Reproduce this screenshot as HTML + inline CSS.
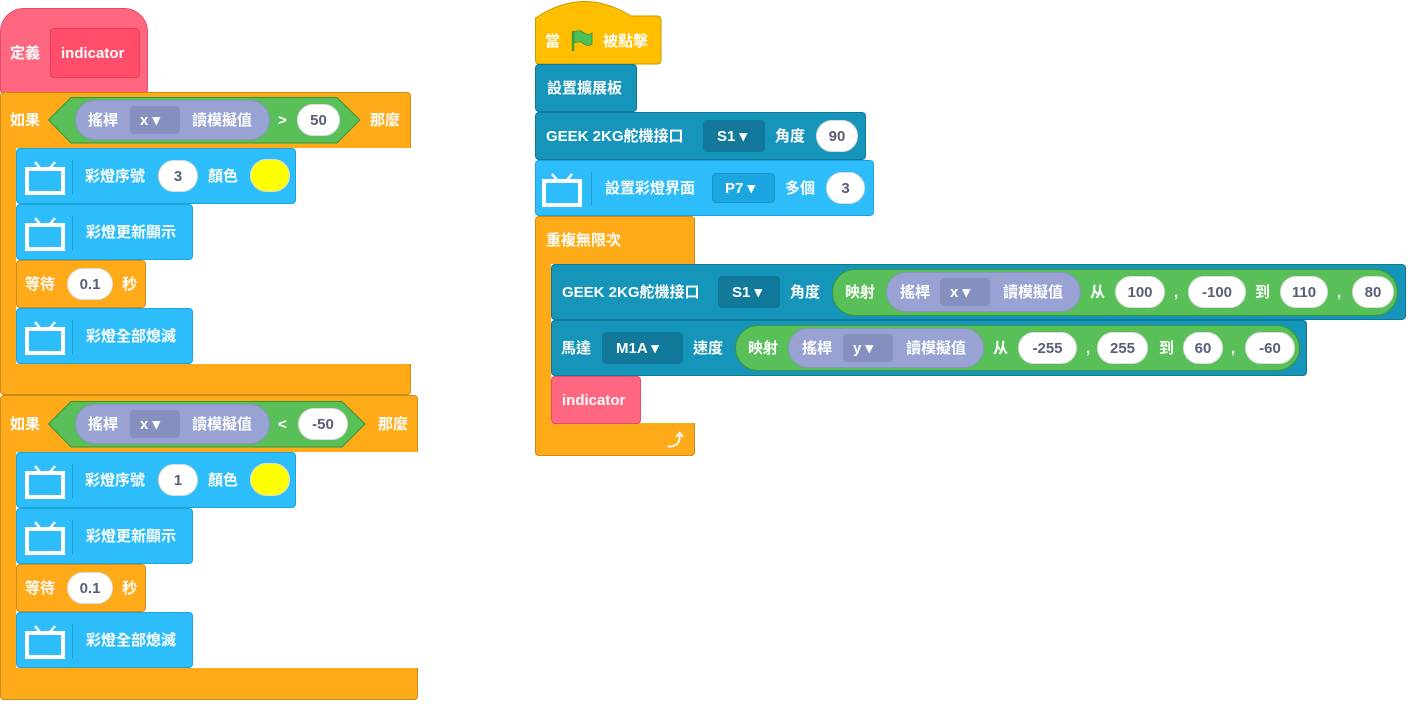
<!DOCTYPE html>
<html><head><meta charset="utf-8"><style>
body{margin:0;width:1408px;height:708px;background:#fff;position:relative;overflow:hidden;font-family:"Liberation Sans","Noto Sans CJK TC",sans-serif}
div{position:absolute;box-sizing:border-box}
.o{background:#FFAB19;border:1px solid #CF8B17;border-radius:4px}
.l{background:#2DBDFB;border:1px solid #1FA3DB;border-radius:4px}
.g{background:#1595BA;border:1px solid #10799A;border-radius:4px}
.p{background:#FF6680;border:1px solid #E64D68;border-radius:4px}
.t{color:#fff;font-weight:bold;font-size:15px;line-height:18px;white-space:nowrap;margin-top:1px}
.ov{background:#fff;border:1px solid #ddd;border-radius:17px;height:32px;color:#575E75;font-weight:bold;font-size:15px;line-height:31px;text-align:center}
.gr{background:#59C059;border:1px solid #389438;border-radius:23px}
.pu{background:#98A3D4;border:1px solid #8A94C6;border-radius:20px}
.dp{background:#8690BE;border-radius:4px;height:28px;color:#fff;font-weight:bold;font-size:15px;line-height:29px;padding-left:10px}
.dt{background:#12799A;border-radius:4px;height:32px;color:#fff;font-weight:bold;font-size:15px;line-height:33px;padding-left:14px}
.dl{background:#1BA6E2;border:1px solid #1895CC;border-radius:4px;height:30px;color:#fff;font-weight:bold;font-size:15px;line-height:29px;padding-left:12px}
.sep{width:1px;background:#1E9FD8}
svg{position:absolute}
</style></head><body>

<!-- LEFT SCRIPT -->
<div class="p" style="left:0;top:8px;width:148px;height:86px;border-radius:24px 24px 4px 4px"></div>
<div style="left:50px;top:28px;width:90px;height:50px;background:#FF4D6A;border:1px solid #E63E5C;border-radius:4px"></div>
<div class="t" style="left:10px;top:44px">定義</div>
<div class="t" style="left:61px;top:44px">indicator</div>

<!-- if 1 -->
<div class="o" style="left:0;top:92px;width:411px;height:303px"></div>
<div style="left:16px;top:148px;width:395px;height:216px;background:#fff"></div>
<div class="o" style="left:0;top:364px;width:411px;height:31px;border-top:none;border-radius:0 4px 4px 4px"></div>
<div style="left:1px;top:140px;width:15px;height:232px;background:#FFAB19"></div>
<div class="t" style="left:10px;top:111px">如果</div>
<svg style="left:48px;top:97px" width="313" height="47"><polygon points="23,0.5 289,0.5 312,23 289,46 23,46 0.5,23" fill="#59C059" stroke="#389438"/></svg>
<div class="pu" style="left:75px;top:100px;width:195px;height:40px"></div>
<div class="t" style="left:88px;top:111px">搖桿</div>
<div class="dp" style="left:130px;top:106px;width:50px">x ▾</div>
<div class="t" style="left:192px;top:111px">讀模擬值</div>
<div class="t" style="left:278px;top:111px">&gt;</div>
<div class="ov" style="left:297px;top:104px;width:43px">50</div>
<div class="t" style="left:370px;top:111px">那麼</div>

<div class="l" style="left:16px;top:148px;width:280px;height:56px"></div>
<div class="l" style="left:16px;top:204px;width:177px;height:56px"></div>
<div class="o" style="left:16px;top:260px;width:130px;height:48px"></div>
<div class="l" style="left:16px;top:308px;width:177px;height:56px"></div>
<div class="t" style="left:85px;top:167px">彩燈序號</div>
<div class="ov" style="left:158px;top:160px;width:40px">3</div>
<div class="t" style="left:208px;top:167px">顏色</div>
<div style="left:250px;top:159px;width:40px;height:33px;background:#FFFF00;border:1px solid #ddd;border-radius:17px"></div>
<div class="t" style="left:86px;top:223px">彩燈更新顯示</div>
<div class="t" style="left:25px;top:275px">等待</div>
<div class="ov" style="left:67px;top:268px;width:46px">0.1</div>
<div class="t" style="left:122px;top:275px">秒</div>
<div class="t" style="left:86px;top:327px">彩燈全部熄滅</div>

<!-- if 2 -->
<div class="o" style="left:0;top:395px;width:418px;height:305px"></div>
<div style="left:16px;top:452px;width:402px;height:216px;background:#fff"></div>
<div class="o" style="left:0;top:668px;width:418px;height:32px;border-top:none;border-radius:0 4px 4px 4px"></div>
<div style="left:1px;top:444px;width:15px;height:232px;background:#FFAB19"></div>
<div class="t" style="left:10px;top:415px">如果</div>
<svg style="left:48px;top:401px" width="318" height="47"><polygon points="23,0.5 294,0.5 317,23 294,46 23,46 0.5,23" fill="#59C059" stroke="#389438"/></svg>
<div class="pu" style="left:75px;top:404px;width:195px;height:40px"></div>
<div class="t" style="left:88px;top:415px">搖桿</div>
<div class="dp" style="left:130px;top:410px;width:50px">x ▾</div>
<div class="t" style="left:192px;top:415px">讀模擬值</div>
<div class="t" style="left:278px;top:415px">&lt;</div>
<div class="ov" style="left:298px;top:408px;width:50px">-50</div>
<div class="t" style="left:378px;top:415px">那麼</div>

<div class="l" style="left:16px;top:452px;width:280px;height:56px"></div>
<div class="l" style="left:16px;top:508px;width:177px;height:56px"></div>
<div class="o" style="left:16px;top:564px;width:130px;height:48px"></div>
<div class="l" style="left:16px;top:612px;width:177px;height:56px"></div>
<div class="t" style="left:85px;top:471px">彩燈序號</div>
<div class="ov" style="left:158px;top:464px;width:40px">1</div>
<div class="t" style="left:208px;top:471px">顏色</div>
<div style="left:250px;top:463px;width:40px;height:33px;background:#FFFF00;border:1px solid #ddd;border-radius:17px"></div>
<div class="t" style="left:86px;top:527px">彩燈更新顯示</div>
<div class="t" style="left:25px;top:579px">等待</div>
<div class="ov" style="left:67px;top:572px;width:46px">0.1</div>
<div class="t" style="left:122px;top:579px">秒</div>
<div class="t" style="left:86px;top:631px">彩燈全部熄滅</div>

<!-- TV icons left -->
<svg style="left:24px;top:161px" width="42" height="34"><path d="M11 1 L16 7 M31 1 L26 7" stroke="#fff" stroke-width="2.5"/><rect x="3" y="8" width="36" height="24" fill="none" stroke="#fff" stroke-width="4"/></svg>
<div class="sep" style="left:72px;top:160px;height:34px"></div>
<svg style="left:24px;top:217px" width="42" height="34"><path d="M11 1 L16 7 M31 1 L26 7" stroke="#fff" stroke-width="2.5"/><rect x="3" y="8" width="36" height="24" fill="none" stroke="#fff" stroke-width="4"/></svg>
<div class="sep" style="left:72px;top:216px;height:34px"></div>
<svg style="left:24px;top:321px" width="42" height="34"><path d="M11 1 L16 7 M31 1 L26 7" stroke="#fff" stroke-width="2.5"/><rect x="3" y="8" width="36" height="24" fill="none" stroke="#fff" stroke-width="4"/></svg>
<div class="sep" style="left:72px;top:320px;height:34px"></div>
<svg style="left:24px;top:465px" width="42" height="34"><path d="M11 1 L16 7 M31 1 L26 7" stroke="#fff" stroke-width="2.5"/><rect x="3" y="8" width="36" height="24" fill="none" stroke="#fff" stroke-width="4"/></svg>
<div class="sep" style="left:72px;top:464px;height:34px"></div>
<svg style="left:24px;top:521px" width="42" height="34"><path d="M11 1 L16 7 M31 1 L26 7" stroke="#fff" stroke-width="2.5"/><rect x="3" y="8" width="36" height="24" fill="none" stroke="#fff" stroke-width="4"/></svg>
<div class="sep" style="left:72px;top:520px;height:34px"></div>
<svg style="left:24px;top:625px" width="42" height="34"><path d="M11 1 L16 7 M31 1 L26 7" stroke="#fff" stroke-width="2.5"/><rect x="3" y="8" width="36" height="24" fill="none" stroke="#fff" stroke-width="4"/></svg>
<div class="sep" style="left:72px;top:624px;height:34px"></div>

<!-- RIGHT SCRIPT -->
<svg style="left:535px;top:0" width="127" height="66"><path d="M0.5 18 Q48 -14 96 16 L122 16 Q126 16 126 20 L126 60 Q126 64 122 64 L4 64 Q0.5 64 0.5 60 Z" fill="#FFBF00" stroke="#CC9900"/></svg>
<div class="t" style="left:545px;top:32px">當</div>
<svg style="left:570px;top:29px" width="24" height="24"><path d="M3 2 L3 22" stroke="#3D9E3D" stroke-width="2.5"/><path d="M4 3 Q10 0 14 4 Q18 7 22 4 L22 15 Q18 18 14 15 Q10 11 4 14 Z" fill="#4CBF56" stroke="#45993D"/></svg>
<div class="t" style="left:603px;top:32px">被點擊</div>

<div class="g" style="left:535px;top:64px;width:102px;height:48px"></div>
<div class="t" style="left:547px;top:79px">設置擴展板</div>
<div class="g" style="left:535px;top:112px;width:331px;height:48px"></div>
<div class="t" style="left:546px;top:127px">GEEK 2KG舵機接口</div>
<div class="dt" style="left:703px;top:120px;width:62px">S1 ▾</div>
<div class="t" style="left:775px;top:127px">角度</div>
<div class="ov" style="left:816px;top:120px;width:42px">90</div>

<div class="l" style="left:535px;top:160px;width:339px;height:56px"></div>
<svg style="left:541px;top:173px" width="42" height="34"><path d="M11 1 L16 7 M31 1 L26 7" stroke="#fff" stroke-width="2.5"/><rect x="3" y="8" width="36" height="24" fill="none" stroke="#fff" stroke-width="4"/></svg>
<div class="sep" style="left:591px;top:172px;height:34px"></div>
<div class="t" style="left:605px;top:179px">設置彩燈界面</div>
<div class="dl" style="left:712px;top:173px;width:63px">P7 ▾</div>
<div class="t" style="left:785px;top:179px">多個</div>
<div class="ov" style="left:826px;top:172px;width:39px">3</div>

<!-- forever -->
<div class="o" style="left:535px;top:216px;width:160px;height:240px"></div>
<div style="left:551px;top:264px;width:150px;height:159px;background:#fff"></div>
<div class="o" style="left:535px;top:423px;width:160px;height:33px;border-top:none;border-radius:0 4px 4px 4px"></div>
<div style="left:536px;top:256px;width:15px;height:175px;background:#FFAB19"></div>
<div class="t" style="left:546px;top:231px">重複無限次</div>
<div class="t" style="left:667px;top:431px;font-size:17px">⤴</div>

<div class="g" style="left:551px;top:264px;width:855px;height:56px"></div>
<div class="t" style="left:562px;top:283px">GEEK 2KG舵機接口</div>
<div class="dt" style="left:718px;top:276px;width:62px">S1 ▾</div>
<div class="t" style="left:790px;top:283px">角度</div>
<div class="gr" style="left:832px;top:269px;width:566px;height:47px"></div>
<div class="t" style="left:845px;top:283px">映射</div>
<div class="pu" style="left:886px;top:272px;width:195px;height:40px"></div>
<div class="t" style="left:900px;top:283px">搖桿</div>
<div class="dp" style="left:940px;top:278px;width:50px">x ▾</div>
<div class="t" style="left:1003px;top:283px">讀模擬值</div>
<div class="t" style="left:1090px;top:283px">从</div>
<div class="ov" style="left:1115px;top:276px;width:50px">100</div>
<div class="t" style="left:1174px;top:283px">,</div>
<div class="ov" style="left:1188px;top:276px;width:58px">-100</div>
<div class="t" style="left:1255px;top:283px">到</div>
<div class="ov" style="left:1280px;top:276px;width:48px">110</div>
<div class="t" style="left:1337px;top:283px">,</div>
<div class="ov" style="left:1352px;top:276px;width:42px">80</div>

<div class="g" style="left:551px;top:320px;width:756px;height:56px"></div>
<div class="t" style="left:561px;top:339px">馬達</div>
<div class="dt" style="left:602px;top:332px;width:81px">M1A ▾</div>
<div class="t" style="left:693px;top:339px">速度</div>
<div class="gr" style="left:735px;top:325px;width:565px;height:46px"></div>
<div class="t" style="left:748px;top:339px">映射</div>
<div class="pu" style="left:788px;top:328px;width:196px;height:40px"></div>
<div class="t" style="left:802px;top:339px">搖桿</div>
<div class="dp" style="left:843px;top:334px;width:50px">y ▾</div>
<div class="t" style="left:906px;top:339px">讀模擬值</div>
<div class="t" style="left:993px;top:339px">从</div>
<div class="ov" style="left:1018px;top:332px;width:59px">-255</div>
<div class="t" style="left:1086px;top:339px">,</div>
<div class="ov" style="left:1097px;top:332px;width:51px">255</div>
<div class="t" style="left:1159px;top:339px">到</div>
<div class="ov" style="left:1183px;top:332px;width:40px">60</div>
<div class="t" style="left:1231px;top:339px">,</div>
<div class="ov" style="left:1245px;top:332px;width:50px">-60</div>

<div class="p" style="left:551px;top:376px;width:90px;height:48px"></div>
<div class="t" style="left:562px;top:391px">indicator</div>
</body></html>
